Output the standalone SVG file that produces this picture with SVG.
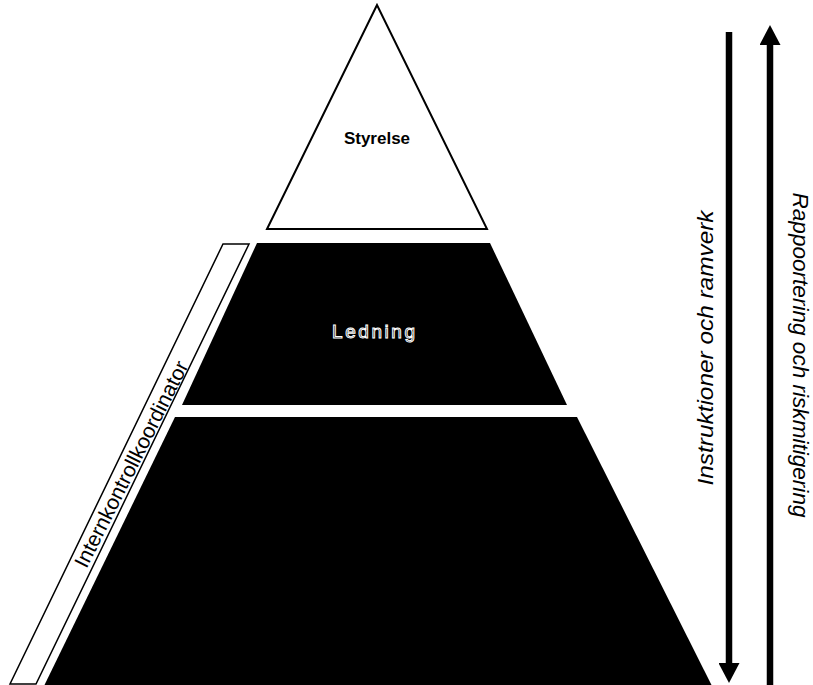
<svg xmlns="http://www.w3.org/2000/svg" width="813" height="685" viewBox="0 0 813 685">
<style>
.lvl{fill:#000;stroke:none}
.tri{fill:#fff;stroke:#000;stroke-width:2;stroke-linejoin:miter}
.band{fill:#fff;stroke:#000;stroke-width:1.5}
.t{font-family:"Liberation Sans",Arial,sans-serif}
.it{font-style:italic;font-size:22px;fill:#000}
.arr{stroke:#000;stroke-width:6.5;fill:none}
</style>
<defs>
<marker id="ah" viewBox="0 0 20 21" refX="0" refY="10.5" markerWidth="20" markerHeight="21" markerUnits="userSpaceOnUse" orient="auto">
<path d="M0,0 L20,10.5 L0,21 z" fill="#000"/>
</marker>
</defs>
<rect width="813" height="685" fill="#fff"/>
<g id="styrelse">
<polygon class="tri" points="377,5 267,229 487,229"/>
<text class="t" x="377" y="144" text-anchor="middle" font-size="17" font-weight="bold">Styrelse</text>
</g>
<g id="ledning">
<polygon class="lvl" points="257,243 490,243 567,405 182,405"/>
<text class="t" x="373.5" y="338" text-anchor="middle" font-size="19" textLength="83" lengthAdjust="spacing" fill="#000" stroke="#fff" stroke-width="1">Ledning</text>
</g>
<g id="bas">
<polygon class="lvl" points="175,417 577,417 712,686 44,686"/>
</g>
<g id="internkontroll">
<polygon class="band" points="223,244 249,244 36,684 10,684"/>
<text class="t" transform="translate(131,464) rotate(-63.3)" x="0" y="7.5" text-anchor="middle" font-size="21" textLength="228" lengthAdjust="spacingAndGlyphs">Internkontrollkoordinator</text>
</g>
<g id="connectors">
<line class="arr" x1="729" y1="32" x2="729" y2="663" marker-end="url(#ah)"/>
<line class="arr" x1="770" y1="686" x2="770" y2="45" marker-end="url(#ah)"/>
</g>
<g id="labels">
<text class="t it" transform="translate(713,348) rotate(-90)" text-anchor="middle" textLength="275" lengthAdjust="spacingAndGlyphs">Instruktioner och ramverk</text>
<text class="t it" transform="translate(793,355) rotate(90)" text-anchor="middle" textLength="325" lengthAdjust="spacingAndGlyphs">Rappoortering och riskmitigering</text>
</g>
</svg>
